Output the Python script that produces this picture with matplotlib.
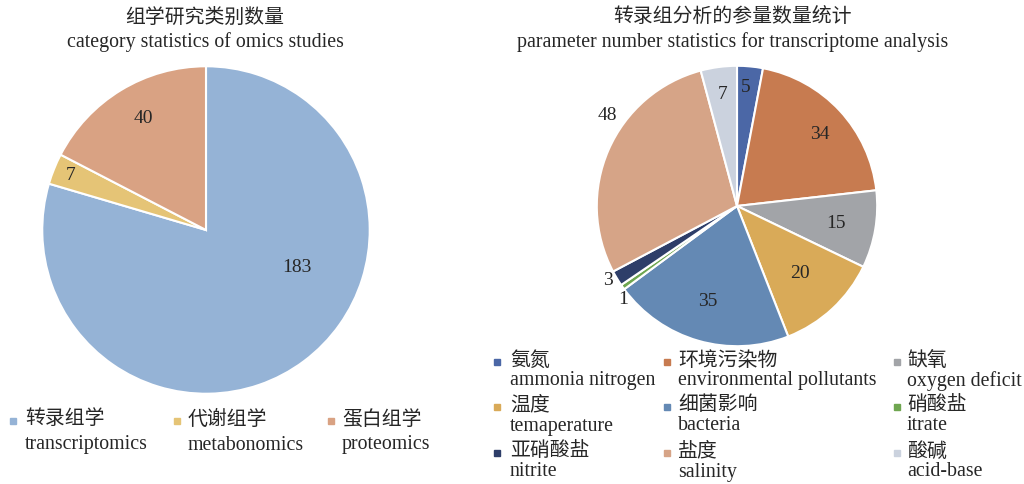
import matplotlib
matplotlib.use("Agg")
import matplotlib.pyplot as plt
from matplotlib.lines import Line2D
import numpy as np

FONT = ['Liberation Serif', 'Noto Sans CJK SC']
plt.rcParams['font.family'] = FONT

# ---- data ----
left_title_cn = "组学研究类别数量"
left_title_en = "category statistics of omics studies"
left_cn = ["转录组学", "代谢组学", "蛋白组学"]
left_en = ["transcriptomics", "metabonomics", "proteomics"]
left_values = [183, 7, 40]
left_colors = ["#95b3d6", "#e5c476", "#d9a283"]

right_title_cn = "转录组分析的参量数量统计"
right_title_en = "parameter number statistics for transcriptome analysis"
right_cn = ["氨氮", "环境污染物", "缺氧", "温度", "细菌影响", "硝酸盐", "亚硝酸盐", "盐度", "酸碱"]
right_en = ["ammonia nitrogen", "environmental pollutants", "oxygen deficit",
            "temaperature", "bacteria", "itrate", "nitrite", "salinity", "acid-base"]
right_values = [5, 34, 15, 20, 35, 1, 3, 48, 7]
right_colors = ["#4b67a6", "#c77b50", "#a2a4a8", "#d9aa58", "#6489b4",
                "#6fa650", "#2e3e69", "#d6a487", "#cbd2de"]

# label placement (angle in deg, radius fraction) -- style only
left_label_pos = [(-22.5, 0.6), (158, 0.89), (119.5, 0.78)]
right_label_pos = [(86, 0.85), (41, 0.78), (-10, 0.72), (-47, 0.66), (-107, 0.71),
                   (-140.5, 1.05), (-150, 1.06), (145, 1.13), (97.6, 0.8)]

W, H = 1024, 484
fig = plt.figure(figsize=(W / 100, H / 100), dpi=100)
TXT = "#262626"
FS = 14.3
LFS = 14


def px_axes(cx, cy, r):
    return fig.add_axes([(cx - r) / W, 1 - (cy + r) / H, 2 * r / W, 2 * r / H])


def draw_pie(ax, values, colors, label_pos, fs):
    wedges, _ = ax.pie(values, colors=colors, startangle=90, counterclock=False,
                       wedgeprops=dict(edgecolor="white", linewidth=1.5), radius=1.0)
    for v, (ang, rr) in zip(values, label_pos):
        a = np.deg2rad(ang)
        ax.text(rr * np.cos(a), rr * np.sin(a), str(v), ha="center", va="center",
                fontsize=fs, color=TXT)
    ax.set_xlim(-1.02, 1.02)
    ax.set_ylim(-1.02, 1.02)
    ax.set_aspect("equal")
    ax.axis("off")


axL = px_axes(206, 230, 167)
draw_pie(axL, left_values, left_colors, left_label_pos, LFS)
axR = px_axes(737, 206, 143)
draw_pie(axR, right_values, right_colors, right_label_pos, LFS)


def ftext(x, y, s, fs, ha="center", **kw):
    fig.text(x / W, 1 - y / H, s, fontsize=fs, ha=ha, va="center", color=TXT, **kw)


ftext(205, 18, left_title_cn, FS)
ftext(205, 42, left_title_en, FS)
ftext(733, 18, right_title_cn, FS)
ftext(733, 42, right_title_en, FS)


def marker(x, y, c):
    fig.add_artist(Line2D([x / W], [1 - y / H], marker="s", markersize=3.8,
                          color=c, linestyle="none", transform=fig.transFigure))


# left legend
left_cols = [(13, 25), (177, 188), (331, 342)]
for i, (mx, tx) in enumerate(left_cols):
    marker(mx, 421, left_colors[i])
    ftext(tx, 420, left_cn[i], FS, ha="left")
    ftext(tx, 445, left_en[i], FS, ha="left")

# right legend
right_cols = [(497, 510), (667, 678), (897, 907)]
right_rows = [(361, 381), (406, 426), (452, 472)]
for i in range(len(right_values)):
    r, c = divmod(i, 3)
    mx, tx = right_cols[c]
    y1, y2 = right_rows[r]
    marker(mx, y1 + 1, right_colors[i])
    ftext(tx, y1, right_cn[i], FS, ha="left")
    ftext(tx, y2, right_en[i], FS, ha="left")

fig.savefig("out.png", dpi=100, facecolor="white")
